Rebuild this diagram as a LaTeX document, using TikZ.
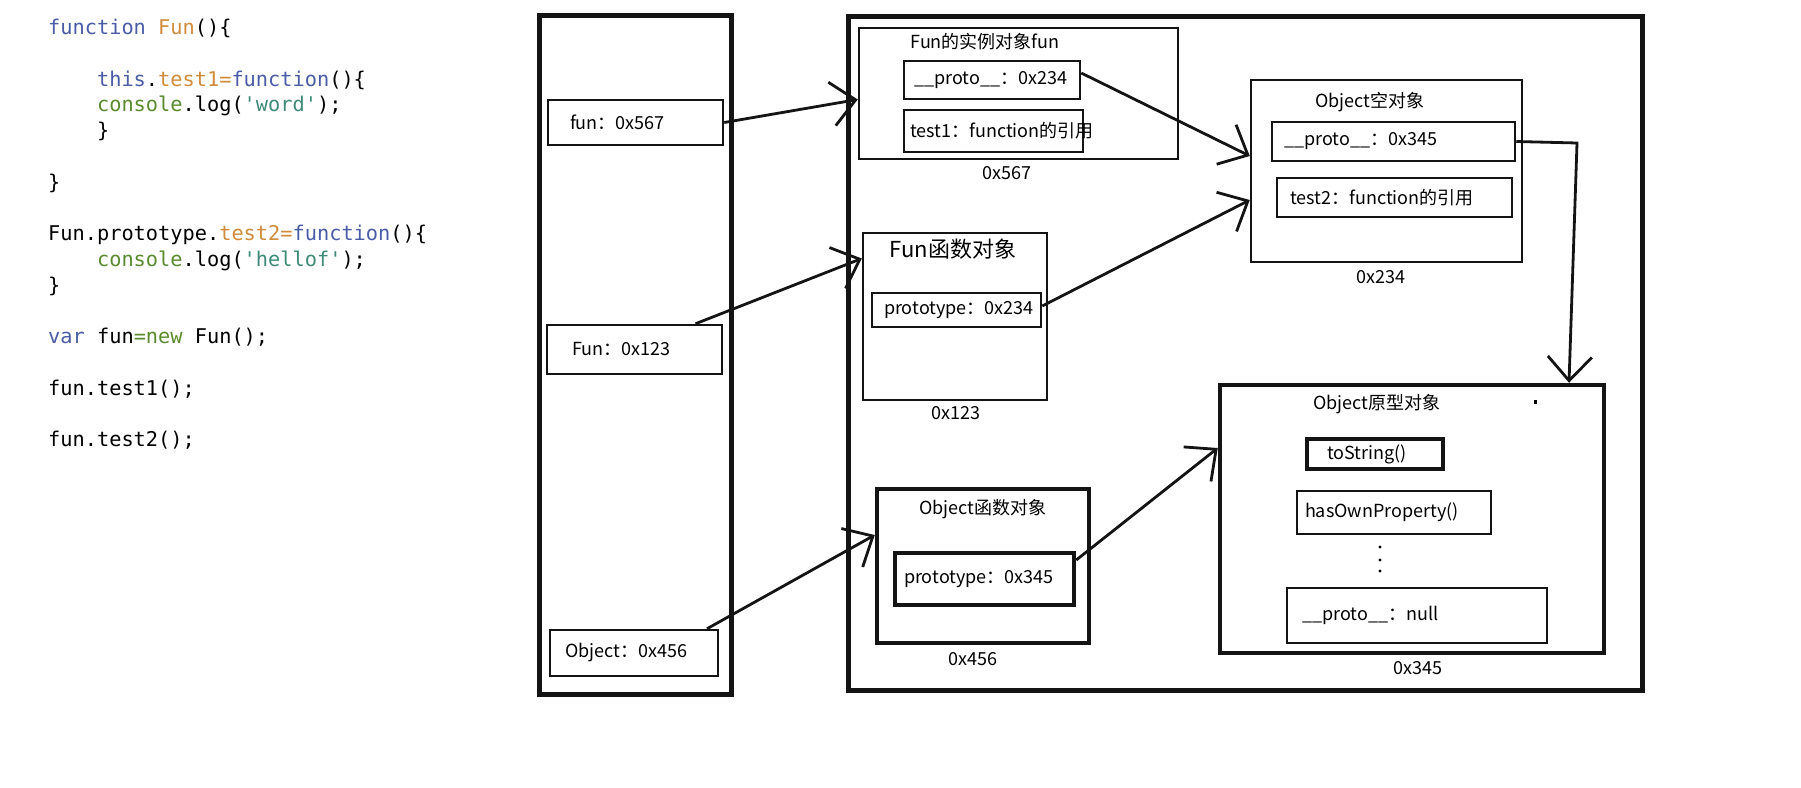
\documentclass[tikz,border=0pt]{standalone}
\usepackage{fontspec}
\setmonofont{DejaVu Sans Mono}
\newfontfamily\cjk{Noto Sans CJK SC}
\usepackage{xcolor}
\definecolor{kwblue}{HTML}{4A5CA6}
\definecolor{fnorange}{HTML}{D08C3A}
\definecolor{consgreen}{HTML}{5A8A2E}
\definecolor{strteal}{HTML}{3D8A78}
\colorlet{inkline}{black!92}
\usepackage{tikz}
\usetikzlibrary{arrows.meta}
\newcommand{\ind}{\phantom{0000}}
\newcommand{\q}{\textquotesingle}

\begin{document}
\begin{tikzpicture}[
  x=1pt, y=-1pt,
  code/.style={anchor=north west, inner sep=0pt, align=left,
    font=\ttfamily\fontsize{20.3}{25.75}\selectfont},
  cell/.style={draw=inkline, line width=2.5pt, inner ysep=0pt, align=left,
    font=\cjk\fontsize{18}{21}\selectfont},
  thickcell/.style={cell, line width=4.5pt},
  area/.style={draw=inkline, line width=5pt, inner sep=0pt},
  objbox/.style={draw=inkline, line width=2.5pt, inner sep=0pt},
  thickobj/.style={objbox, line width=4.5pt},
  lbl/.style={inner sep=0pt, font=\cjk\fontsize{18}{21}\selectfont},
  ref/.style={-{Straight Barb[length=24pt,width=44pt]}, line width=2.8pt, color=inkline}
]
\useasboundingbox (0,0) rectangle (1801,787);

% source code
\node[code] (src) at (48,19) {%
{\color{kwblue}function} {\color{fnorange}Fun}()\{\\
\mbox{}\\
\ind{\color{kwblue}this}.{\color{fnorange}test1=}{\color{kwblue}function}()\{\\
\ind{\color{consgreen}console}.log({\color{strteal}\q word\q});\\
\ind\}\\
\mbox{}\\
\}\\
\mbox{}\\
Fun.prototype.{\color{fnorange}test2=}{\color{kwblue}function}()\{\\
\ind{\color{consgreen}console}.log({\color{strteal}\q hellof\q});\\
\}\\
\mbox{}\\
{\color{kwblue}var} fun{\color{consgreen}=new} Fun();\\
\mbox{}\\
fun.test1();\\
\mbox{}\\
fun.test2();};

% stack and heap
\node[area, minimum width=192pt, minimum height=679pt] (stack) at (635,354.5) {};
\node[area, minimum width=794pt, minimum height=674pt] (heap) at (1245,353) {};

% stack entries
\node[cell, minimum height=45pt, text width=131pt, inner xsep=22pt] (funS) at (635.5,122.5) {fun：0x567};
\node[cell, minimum height=49pt, text width=125pt, inner xsep=25pt] (FunS) at (634.5,349.5) {Fun：0x123};
\node[cell, minimum height=46pt, text width=138pt, inner xsep=15pt] (ObjS) at (634,653) {Object：0x456};

% instance fun
\node[objbox, minimum width=319pt, minimum height=131pt] (inst) at (1018.5,93.5) {};
\node[lbl] (instT) at (985,42) {Fun的实例对象fun};
\node[cell, minimum height=38pt, text width=156pt, inner xsep=10pt] (p234) at (992,80) {\_\_proto\_\_：0x234};
\node[cell, minimum height=42pt, text width=167pt, inner xsep=6pt] (test1) at (993.5,131) {test1：function的引用};
\node[lbl] (instA) at (1007,173) {0x567};

% function Fun
\node[objbox, minimum width=184pt, minimum height=167pt] (funobj) at (955,316.5) {};
\node[lbl, font=\cjk\fontsize{22}{26}\selectfont] (funobjT) at (953,249) {Fun函数对象};
\node[cell, minimum height=34pt, text width=145pt, inner xsep=12pt] (pt234) at (956.5,310) {prototype：0x234};
\node[lbl] (funobjA) at (956,413) {0x123};

% empty object
\node[objbox, minimum width=271pt, minimum height=182pt] (empty) at (1386.5,171) {};
\node[lbl] (emptyT) at (1370,102) {Object空对象};
\node[cell, minimum height=39pt, text width=219pt, inner xsep=12pt] (p345) at (1393.5,141.5) {\_\_proto\_\_：0x345};
\node[cell, minimum height=39pt, text width=209pt, inner xsep=13pt] (test2) at (1394.5,197.5) {test2：function的引用};
\node[lbl] (emptyA) at (1381,277) {0x234};

% function Object
\node[thickobj, minimum width=212pt, minimum height=154pt] (objfn) at (983,566) {};
\node[lbl] (objfnT) at (983,509) {Object函数对象};
\node[thickcell, minimum height=52pt, text width=161pt, inner xsep=9pt] (pt345) at (984.5,579) {prototype：0x345};
\node[lbl] (objfnA) at (973,659) {0x456};

% Object prototype
\node[thickobj, minimum width=384pt, minimum height=268pt] (proto) at (1412,519) {};
\node[lbl] (protoT) at (1377,404) {Object原型对象};
\node[thickcell, minimum height=30pt, text width=96pt, inner xsep=20pt] (toStr) at (1375,454) {toString()};
\node[cell, minimum height=43pt, text width=178pt, inner xsep=8pt] (hasOwn) at (1394,512.5) {hasOwnProperty()};
\node[cell, minimum height=55pt, text width=230pt, inner xsep=15pt] (pnull) at (1417,615.5) {\_\_proto\_\_：null};
\node[lbl] (protoA) at (1418,668) {0x345};
\fill (1534,400) rectangle (1537,404);
\foreach \y in {547,560,571}
  \fill (1380,\y) circle (1.7pt);

% references
\draw[ref] (funS.east) -- ([yshift=-6pt]inst.west);
\draw[ref] ([xshift=61pt]FunS.north) -- ([yshift=58pt]funobj.west);
\draw[ref] ([xshift=73pt]ObjS.north) -- ([yshift=31pt]objfn.west);
\draw[ref] ([yshift=7pt]p234.east) -- ([yshift=15pt]empty.west);
\draw[ref] ([yshift=4pt]pt234.east) -- ([yshift=-29pt]empty.west);
\draw[ref] ([yshift=19pt]pt345.east) -- ([yshift=71pt]proto.west);
\coordinate (bend) at (1577,143);
\draw[ref] (p345.east) -- (bend) -- ([xshift=157pt]proto.north);
\end{tikzpicture}
\end{document}
